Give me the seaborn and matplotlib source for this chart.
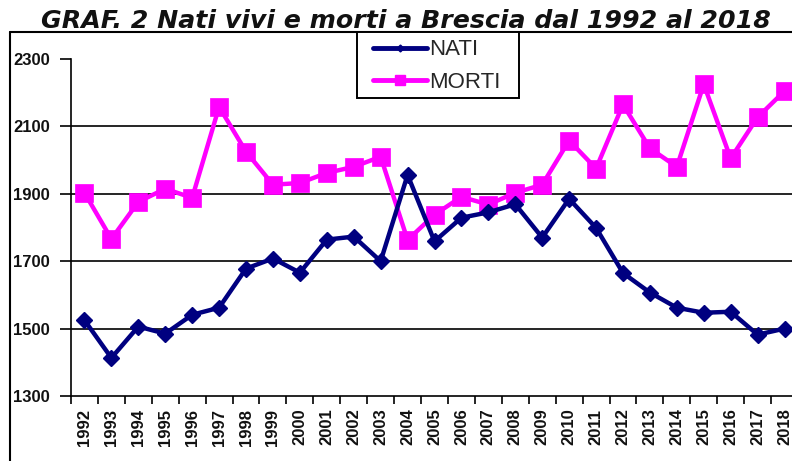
import matplotlib
matplotlib.use("Agg")
import matplotlib.pyplot as plt
import seaborn as sns
import pandas as pd
from matplotlib.lines import Line2D
from matplotlib.patches import Rectangle

years = list(range(1992, 2019))
nati = [1525, 1413, 1506, 1485, 1541, 1562, 1678, 1708, 1666, 1764, 1773, 1700, 1956,
        1759, 1829, 1845, 1869, 1770, 1885, 1799, 1665, 1607, 1562, 1547, 1550, 1482, 1500]
morti = [1903, 1766, 1876, 1915, 1888, 2158, 2025, 1927, 1932, 1962, 1980, 2010, 1763,
         1838, 1891, 1868, 1903, 1927, 2058, 1975, 2165, 2035, 1980, 2225, 2005, 2127, 2205]
series_names = ["NATI", "MORTI"]
yticks = [1300, 1500, 1700, 1900, 2100, 2300]
title = "GRAF. 2 Nati vivi e morti a Brescia dal 1992 al 2018"

sns.set_theme(style="white")
plt.rcParams['font.family'] = ['Liberation Sans', 'DejaVu Sans']

df = pd.DataFrame({"anno": years * 2,
                   "valore": nati + morti,
                   "serie": [series_names[0]] * len(years) + [series_names[1]] * len(years)})

fig = plt.figure(figsize=(7.92, 4.61), dpi=100)
ax = fig.add_axes([71/792, (461-396)/461, (798-71)/792, (396-59)/461])

navy = "#000080"
magenta = "#FF00FF"

sns.lineplot(data=df[df.serie == "NATI"], x="anno", y="valore", ax=ax, color=navy,
             linewidth=3.2, marker="D", markersize=8.5, markeredgecolor=navy,
             markeredgewidth=1, legend=False, zorder=4)
sns.lineplot(data=df[df.serie == "MORTI"], x="anno", y="valore", ax=ax, color=magenta,
             linewidth=3.2, marker="s", markersize=12.5, markeredgecolor=magenta,
             markeredgewidth=0.5, legend=False, zorder=3)

ax.set_xlim(years[0] - 0.5, years[-1] + 0.5)
ax.set_ylim(yticks[0], yticks[-1])
ax.set_yticks(yticks)
ax.set_xticks(years)
ax.set_xticks([y - 0.5 for y in years] + [years[-1] + 0.5], minor=True)
ax.set_xticklabels([str(y) for y in years], rotation=90, fontsize=12, fontweight="bold",
                   color="#111111")
ax.set_yticklabels([str(v) for v in yticks], fontsize=12, fontweight="bold", color="#111111")
ax.tick_params(axis="x", which="major", length=0, pad=9)
ax.tick_params(axis="x", which="minor", length=6, width=1.2, color="black", bottom=True)
ax.tick_params(axis="y", length=8, width=1.2, color="black", left=True, pad=7)
for v in yticks[1:-1]:
    ax.axhline(v, color="black", linewidth=1.2, zorder=1)
ax.set_xlabel("")
ax.set_ylabel("")
for s in ["top", "right"]:
    ax.spines[s].set_visible(False)
for s in ["left", "bottom"]:
    ax.spines[s].set_color("black")
    ax.spines[s].set_linewidth(1.2)

# outer frame
fig.add_artist(Line2D([10/792, 1.0], [1 - 32/461, 1 - 32/461], transform=fig.transFigure,
                      color="black", linewidth=1.5))
fig.add_artist(Line2D([10/792, 10/792], [0, 1 - 32/461], transform=fig.transFigure,
                      color="black", linewidth=1.5))

fig.text(406/792, 1 - 28/461, title, ha="center", va="baseline", fontsize=18.2,
         fontweight="bold", fontstyle="italic", family=["DejaVu Sans"], color="#111111")

# legend box
fig.add_artist(Rectangle((357/792, 1 - 98/461), (519 - 357)/792, 66/461,
                         transform=fig.transFigure, facecolor="white", edgecolor="black",
                         linewidth=1.4, zorder=9))
handles = [Line2D([0], [0], color=navy, linewidth=3.5, marker="D", markersize=3.5),
           Line2D([0], [0], color=magenta, linewidth=3.5, marker="s", markersize=6.5)]
leg = fig.legend(handles, series_names, loc="upper left",
                 bbox_to_anchor=(369/792, 1 - 35/461), fontsize=16, frameon=False,
                 handlelength=2.4, handletextpad=0.1,
                 borderpad=0.2, labelspacing=0.5, borderaxespad=0)
leg.set_zorder(10)

fig.savefig("out.png", dpi=100)
